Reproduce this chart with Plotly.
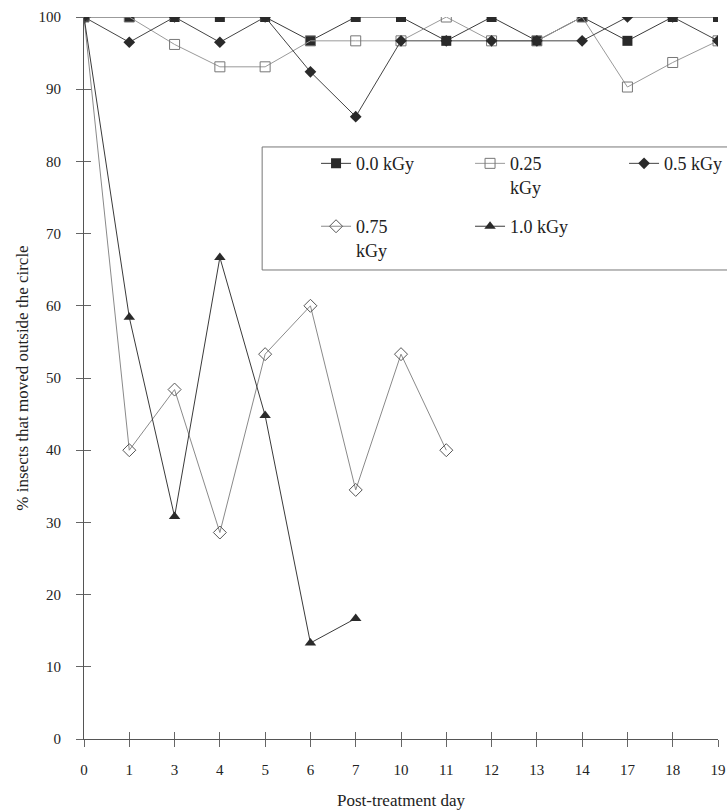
import plotly.graph_objects as go

days = ["0", "1", "3", "4", "5", "6", "7", "10", "11", "12", "13", "14", "17", "18", "19"]

kgy_00 = [100, 100, 100, 100, 100, 96.7, 100, 100, 96.7, 100, 96.7, 100, 96.7, 100, 100]
kgy_025 = [100, 100, 96.2, 93.1, 93.1, 96.7, 96.7, 96.7, 100, 96.7, 96.7, 100, 90.3, 93.7, 96.7]
kgy_05 = [100, 96.5, 100, 96.5, 100, 92.4, 86.2, 96.7, 96.7, 96.7, 96.7, 96.7, 100, 100, 96.7]
days_075 = ["0", "1", "3", "4", "5", "6", "7", "10", "11"]
kgy_075 = [100, 40.0, 48.4, 28.6, 53.3, 60.0, 34.5, 53.3, 40.0]
days_10 = ["0", "1", "3", "4", "5", "6", "7"]
kgy_10 = [100, 58.4, 30.8, 66.7, 44.8, 13.3, 16.7]

y_ticks = [0, 10, 20, 30, 40, 50, 60, 70, 80, 90, 100]

FONT = "Liberation Serif"

fig = go.Figure()

fig.add_trace(go.Scatter(
    x=days, y=kgy_00, name="0.0 kGy", mode="lines+markers", legend="legend",
    line=dict(color="#3a3a3a", width=1),
    marker=dict(symbol="square", size=10, color="#2a2a2a"),
))
fig.add_trace(go.Scatter(
    x=days, y=kgy_025, name="0.25<br>kGy", mode="lines+markers", legend="legend",
    line=dict(color="#9a9a9a", width=1),
    marker=dict(symbol="square-open", size=10, color="#777777", line=dict(width=1)),
))
fig.add_trace(go.Scatter(
    x=days, y=kgy_05, name="0.5 kGy", mode="lines+markers", legend="legend",
    line=dict(color="#444444", width=1),
    marker=dict(symbol="diamond", size=9, color="#2a2a2a"),
))
fig.add_trace(go.Scatter(
    x=days_075, y=kgy_075, name="0.75<br>kGy", mode="lines+markers", legend="legend2",
    line=dict(color="#8a8a8a", width=1),
    marker=dict(symbol="diamond-open", size=10, color="#555555", line=dict(width=1)),
))
fig.add_trace(go.Scatter(
    x=days_10, y=kgy_10, name="1.0 kGy", mode="lines+markers", legend="legend2",
    line=dict(color="#3a3a3a", width=1),
    marker=dict(symbol="triangle-up", size=10, color="#2a2a2a"),
))
# empty trace to create the overlaid axes used for the inward half of the cross ticks
fig.add_trace(go.Scatter(x=[], y=[], xaxis="x2", yaxis="y2", showlegend=False, hoverinfo="skip"))

W, H = 727, 811
ML, MR, MT, MB = 84, 9, 17, 72

legend_common = dict(
    orientation="h", xanchor="left", yanchor="top",
    borderwidth=0, bgcolor="rgba(0,0,0,0)",
    entrywidth=109, entrywidthmode="pixels", valign="top",
    font=dict(family=FONT, size=18, color="#222222"),
)

fig.update_layout(
    width=W, height=H,
    margin=dict(l=ML, r=MR, t=MT, b=MB, autoexpand=False),
    paper_bgcolor="white", plot_bgcolor="white",
    font=dict(family=FONT, size=15, color="#222222"),
    showlegend=True,
    xaxis=dict(
        type="category", categoryorder="array", categoryarray=days,
        range=[0, 14], showgrid=False, zeroline=False,
        showline=True, linecolor="#555555", linewidth=1,
        ticks="outside", ticklen=7, tickcolor="#666666", tickwidth=1,
        ticklabelstandoff=10, automargin=False,
        tickfont=dict(family=FONT, size=15, color="#222222"),
        title=dict(text="Post-treatment day", font=dict(family=FONT, size=17, color="#222222"), standoff=17),
    ),
    yaxis=dict(
        range=[0, 100], tickvals=y_ticks, showgrid=False, zeroline=False,
        showline=True, linecolor="#555555", linewidth=1,
        ticks="outside", ticklen=7, tickcolor="#666666", tickwidth=1,
        ticklabelstandoff=12, automargin=False,
        tickfont=dict(family=FONT, size=15, color="#222222"),
        title=dict(text="% insects that moved outside the circle",
                   font=dict(family=FONT, size=17, color="#222222"), standoff=5),
    ),
    xaxis2=dict(
        overlaying="x", range=[0, 14], tickvals=list(range(len(days))),
        showticklabels=False, ticks="inside", ticklen=7, tickcolor="#666666",
        showgrid=False, zeroline=False, showline=False,
    ),
    yaxis2=dict(
        overlaying="y", range=[0, 100], tickvals=y_ticks,
        showticklabels=False, ticks="inside", ticklen=7, tickcolor="#666666",
        showgrid=False, zeroline=False, showline=False,
    ),
    legend=dict(x=0.366, y=0.8225, **legend_common),
    legend2=dict(x=0.366, y=0.7354, **legend_common),
    shapes=[dict(
        type="rect", xref="paper", yref="paper",
        x0=0.281, x1=1.03, y0=0.6496, y1=0.82,
        line=dict(color="#777777", width=1), fillcolor="rgba(0,0,0,0)", layer="below",
    )],
)

fig.write_html("out.html", config={"displayModeBar": False},
               post_script="document.body.style.margin='0';")
